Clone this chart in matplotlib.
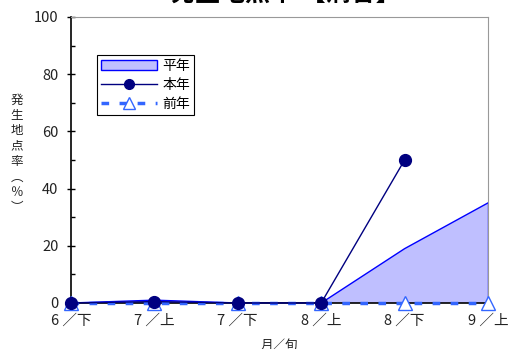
import matplotlib
matplotlib.use("Agg")
import matplotlib.pyplot as plt
from matplotlib.ticker import MultipleLocator
from matplotlib.patches import Patch
from matplotlib.lines import Line2D

plt.rcParams['font.family'] = ['Noto Sans CJK JP', 'DejaVu Sans']

# 月／旬 と 発生地点率(%)
periods = ['6 ／下', '7 ／上', '7 ／下', '8 ／上', '8 ／下', '9 ／上']
heinen = [0, 1, 0, 0, 19, 35]
honnen = [0, 0.5, 0, 0, 50]
zennen = [0, 0, 0, 0, 0, 0]

fig = plt.figure(figsize=(5.09, 3.49), dpi=100)
ax = fig.add_axes([71/509, 1-303/349, 417/509, 286/349])

x = list(range(len(periods)))
dash = (0, (2.2, 3.0))

# 平年 (塗りつぶし)
ax.fill_between(x, heinen, 0, facecolor='#bfbfff', edgecolor='none', zorder=1)
ax.plot(x, heinen, color='#0000ff', lw=1.0, zorder=2)
ax.plot([x[-1], x[-1]], [0, heinen[-1]], color='#0000ff', lw=1.0, zorder=2)

# 前年
ax.plot(x, zennen, color='#3366ff', lw=2.5, ls=dash, marker='^',
        markersize=10, markerfacecolor='white', markeredgecolor='#3366ff',
        markeredgewidth=1.0, zorder=3, clip_on=False)

# 本年
ax.plot(x[:len(honnen)], honnen, color='#000080', lw=1.0, marker='o',
        markersize=8.5, markerfacecolor='#000080', markeredgecolor='#000080',
        zorder=4, clip_on=False)

ax.set_xlim(0, 5)
ax.set_ylim(0, 100)
ax.yaxis.set_major_locator(MultipleLocator(20))
ax.yaxis.set_minor_locator(MultipleLocator(10))
ax.tick_params(axis='y', which='major', direction='inout', length=6, width=1,
               labelsize=10.5, pad=6, colors='black', labelcolor='#222222')
ax.tick_params(axis='y', which='minor', direction='in', length=3, width=1)
ax.set_xticks(x)
ax.set_xticklabels(periods)
ax.tick_params(axis='x', length=0, labelsize=10.5, pad=8, labelcolor='#222222')

for s in ['top', 'right']:
    ax.spines[s].set_color('#999999')
for s in ['left', 'bottom']:
    ax.spines[s].set_color('black')
    ax.spines[s].set_linewidth(1.2)

handles = [
    Patch(facecolor='#bfbfff', edgecolor='#0000ff', label='平年'),
    Line2D([], [], color='#000080', lw=1, marker='o', markersize=7,
           label='本年'),
    Line2D([], [], color='#3366ff', lw=2.5, ls=dash, marker='^',
           markersize=8, markerfacecolor='white', label='前年'),
]
leg = ax.legend(handles=handles, loc='upper left',
                bbox_to_anchor=(26/417, 1-38/286), fontsize=10,
                frameon=True, fancybox=False, framealpha=1,
                edgecolor='black', borderpad=0.3, labelspacing=0.35,
                handlelength=4.0, handletextpad=0.4, borderaxespad=0)
leg.get_frame().set_linewidth(0.8)

# 縦書きのY軸ラベル
fig.text(17/509, 1-154/349, '発\n生\n地\n点\n率\n︵\n％\n︶', ha='center',
         va='center', fontsize=9, linespacing=1.24, color='#222222')

ax.set_xlabel('月／旬', fontsize=9, labelpad=8, color='#222222')

fig.text(285/509, 1 + 6/349, '発生地点率 【病害】', ha='center', va='center',
         fontsize=18, fontweight='bold')

fig.savefig('out.png', dpi=100)
